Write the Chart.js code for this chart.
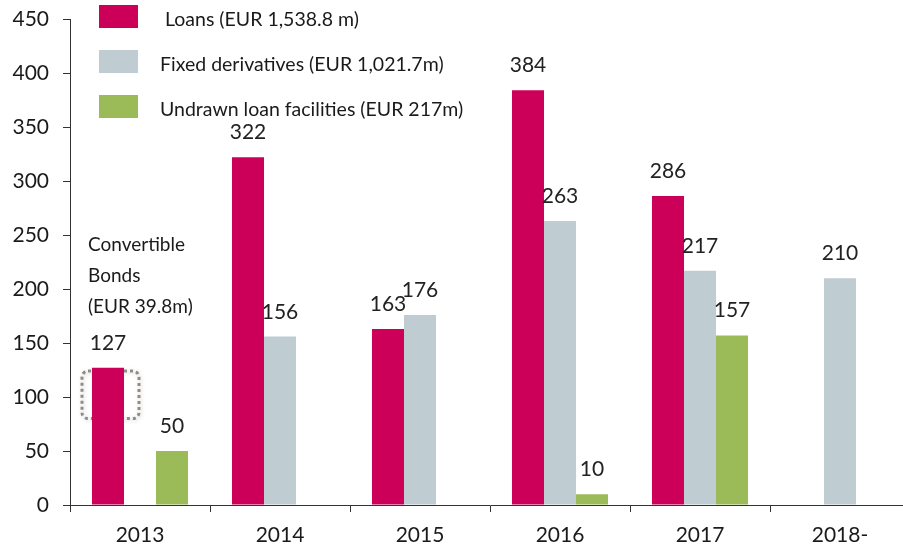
<!DOCTYPE html>
<html>
<head>
<meta charset="utf-8">
<script src="https://cdn.jsdelivr.net/npm/chart.js@4.4.1/dist/chart.umd.min.js"></script>
<style>
  html, body { margin: 0; padding: 0; background: #fff; overflow: hidden; }
  #wrap { width: 903px; height: 548px; overflow: hidden; }
</style>
</head>
<body>
<div id="wrap"><canvas id="chart" width="920" height="548"></canvas></div>
<script>
// data
const categories = ["2013", "2014", "2015", "2016", "2017", "2018-"];
const loans = [127, 322, 163, 384, 286, null];
const derivatives = [null, 156, 176, 263, 217, 210];
const undrawn = [50, null, null, 10, 157, null];
const seriesNames = [
  " Loans (EUR 1,538.8 m)",
  "Fixed derivatives (EUR 1,021.7m)",
  "Undrawn loan facilities (EUR 217m)"
];
const yTicks = [0, 50, 100, 150, 200, 250, 300, 350, 400, 450];
const noteLines = ["Convertible", "Bonds", "(EUR 39.8m)"];

const FONT = "Lato, 'Open Sans', sans-serif";
const axisColor = "#333";

// labels above each bar
const barLabels = {
  id: "barLabels",
  afterDatasetsDraw(chart) {
    const ctx = chart.ctx;
    ctx.save();
    ctx.font = "21px " + FONT;
    ctx.fillStyle = "#222";
    ctx.textAlign = "center";
    ctx.textBaseline = "alphabetic";
    chart.data.datasets.forEach((ds, i) => {
      chart.getDatasetMeta(i).data.forEach((bar, j) => {
        if (ds.data[j] == null) return;
        ctx.fillText(String(ds.data[j]), bar.x, bar.y - 18);
      });
    });
    ctx.restore();
  }
};

// dotted box around the convertible bond part + note
const convertNote = {
  id: "convertNote",
  beforeDatasetsDraw(chart) {
    const ctx = chart.ctx;
    const y = chart.scales.y;
    const bar = chart.getDatasetMeta(0).data[0];
    const x0 = bar.x - 26, x1 = bar.x + 31;
    const y0 = y.getPixelForValue(124), y1 = y.getPixelForValue(80);
    ctx.save();
    ctx.strokeStyle = "#958b82";
    ctx.lineWidth = 3;
    ctx.setLineDash([3, 3]);
    ctx.shadowColor = "rgba(0,0,0,0.2)";
    ctx.shadowBlur = 4;
    ctx.shadowOffsetX = 1;
    ctx.shadowOffsetY = 1;
    ctx.beginPath();
    ctx.roundRect(x0, y0, x1 - x0, y1 - y0, 6);
    ctx.stroke();
    ctx.restore();

    ctx.save();
    ctx.font = "19px " + FONT;
    ctx.fillStyle = "#1a1a1a";
    ctx.textAlign = "left";
    noteLines.forEach((t, k) => ctx.fillText(t, 88, 251 + k * 31));
    ctx.restore();
  }
};

// legend in the top-left corner, like the original
const boxLegend = {
  id: "boxLegend",
  afterDraw(chart) {
    const ctx = chart.ctx;
    const rows = [5, 50, 95];
    ctx.save();
    ctx.font = "19.5px " + FONT;
    ctx.textBaseline = "middle";
    chart.data.datasets.forEach((ds, i) => {
      ctx.fillStyle = ds.backgroundColor;
      ctx.fillRect(99, rows[i], 39, 23);
      ctx.fillStyle = "#1a1a1a";
      ctx.fillText(ds.label, 160, rows[i] + 15);
    });
    ctx.restore();
  }
};

new Chart(document.getElementById("chart"), {
  type: "bar",
  data: {
    labels: categories,
    datasets: [
      { label: seriesNames[0], data: loans, backgroundColor: "#cc0058" },
      { label: seriesNames[1], data: derivatives, backgroundColor: "#bfcdd3" },
      { label: seriesNames[2], data: undrawn, backgroundColor: "#9bbb59" }
    ]
  },
  plugins: [barLabels, convertNote, boxLegend],
  options: {
    responsive: false,
    animation: false,
    devicePixelRatio: 1,
    layout: { padding: { top: 19, right: 10, left: 0, bottom: 0 } },
    datasets: { bar: { categoryPercentage: 0.686, barPercentage: 1 } },
    plugins: { legend: { display: false }, tooltip: { enabled: false } },
    scales: {
      x: {
        grid: { offset: true, drawOnChartArea: false, drawTicks: true, tickLength: 7, color: axisColor },
        border: { color: axisColor, width: 1 },
        ticks: { font: { family: FONT, size: 21 }, color: "#1a1a1a", padding: 11 },
        afterFit(scale) { scale.height = 43; }
      },
      y: {
        min: 0,
        max: 450,
        afterBuildTicks(scale) { scale.ticks = yTicks.map(v => ({ value: v })); },
        grid: { drawOnChartArea: false, drawTicks: true, tickLength: 7, color: axisColor },
        border: { color: axisColor, width: 1 },
        ticks: { font: { family: FONT, size: 21 }, color: "#1a1a1a", padding: 14 },
        afterFit(scale) {
          scale.width = 70;
          scale.paddingTop = 0;
          scale.paddingBottom = 0;
        }
      }
    }
  }
});
</script>
</body>
</html>
